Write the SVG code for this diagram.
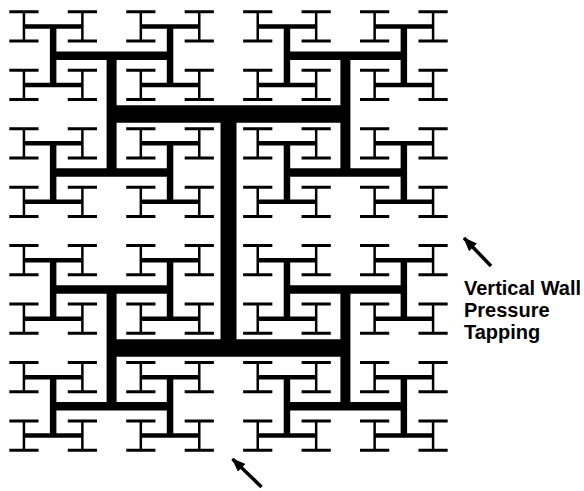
<svg xmlns="http://www.w3.org/2000/svg" xmlns:xlink="http://www.w3.org/1999/xlink" width="584" height="491" viewBox="0 0 584 491">
<style>
  .ln { fill: none; stroke: #000; stroke-linecap: butt; }
  .v0 { stroke-width: 16; }
  .b0 { stroke-width: 17.5; }
  .v1 { stroke-width: 10; }
  .b1 { stroke-width: 8.5; }
  .v2 { stroke-width: 6.5; }
  .b2 { stroke-width: 4.5; }
  .v3 { stroke-width: 2.5; }
  .b3 { stroke-width: 3; }
  .arrow { fill: none; stroke: #000; stroke-width: 3.5; }
  .lbl { font-family: "Liberation Sans", Arial, sans-serif; font-weight: bold; font-size: 20px; fill: #000; }
</style>
<defs>
  <marker id="ah" viewBox="0 0 14 11" refX="13" refY="5.5" markerWidth="14" markerHeight="11" markerUnits="userSpaceOnUse" orient="auto">
    <path d="M0 0L14 5.5L0 11z" fill="#000"/>
  </marker>
  <g id="t3">
    <path class="ln v3" d="M0 -14.61V14.61"/>
    <path class="ln b3" d="M-14.61 -14.61H14.61M-14.61 14.61H14.61"/>
  </g>
  <g id="t2">
    <path class="ln v2" d="M0 -29.225V29.225"/>
    <path class="ln b2" d="M-29.225 -29.225H29.225M-29.225 29.225H29.225"/>
    <use xlink:href="#t3" href="#t3" x="-29.225" y="-29.225"/>
    <use xlink:href="#t3" href="#t3" x="29.225" y="-29.225"/>
    <use xlink:href="#t3" href="#t3" x="-29.225" y="29.225"/>
    <use xlink:href="#t3" href="#t3" x="29.225" y="29.225"/>
  </g>
  <g id="t1">
    <path class="ln v1" d="M0 -58.45V58.45"/>
    <path class="ln b1" d="M-58.45 -58.45H58.45M-58.45 58.45H58.45"/>
    <use xlink:href="#t2" href="#t2" x="-58.45" y="-58.45"/>
    <use xlink:href="#t2" href="#t2" x="58.45" y="-58.45"/>
    <use xlink:href="#t2" href="#t2" x="-58.45" y="58.45"/>
    <use xlink:href="#t2" href="#t2" x="58.45" y="58.45"/>
  </g>
</defs>
<rect width="584" height="491" fill="#fff"/>
<g id="htree" transform="translate(228.5 231)">
  <path class="ln v0" d="M0 -116.9V116.9"/>
  <path class="ln b0" d="M-116.9 -116.9H116.9M-116.9 116.9H116.9"/>
  <use xlink:href="#t1" href="#t1" x="-116.9" y="-116.9"/>
  <use xlink:href="#t1" href="#t1" x="116.9" y="-116.9"/>
  <use xlink:href="#t1" href="#t1" x="-116.9" y="116.9"/>
  <use xlink:href="#t1" href="#t1" x="116.9" y="116.9"/>
</g>
<g id="connectors">
  <path class="arrow" d="M491 266L464 238" marker-end="url(#ah)"/>
  <path class="arrow" d="M261.5 487L232.5 459" marker-end="url(#ah)"/>
</g>
<g id="label">
  <text class="lbl" x="464" y="295">Vertical Wall</text>
  <text class="lbl" x="464" y="317">Pressure</text>
  <text class="lbl" x="464" y="338.5">Tapping</text>
</g>
</svg>
